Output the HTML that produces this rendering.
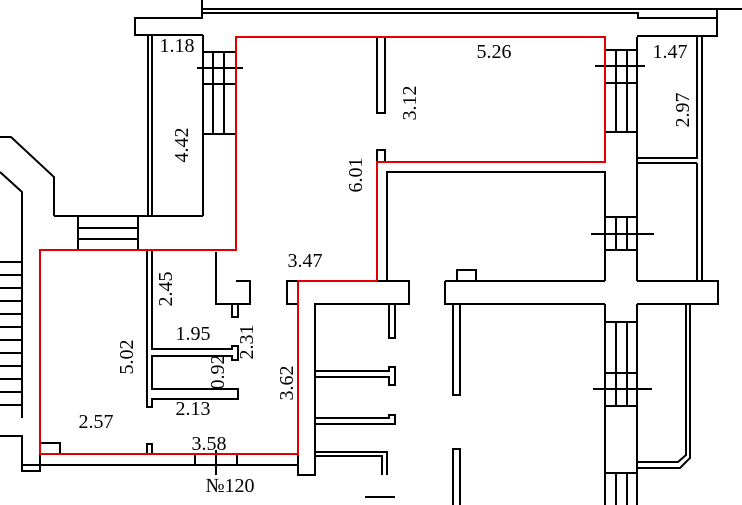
<!DOCTYPE html>
<html><head><meta charset="utf-8"><style>
html,body{margin:0;padding:0;background:#fff;}
svg{display:block;}
text{font-family:"Liberation Serif",serif;font-size:20px;fill:#000;text-anchor:middle;dominant-baseline:central;}
</style></head><body>
<svg width="742" height="505" viewBox="0 0 742 505" xmlns="http://www.w3.org/2000/svg">
<g fill="none" stroke="#000" stroke-width="2">
<path d="M202,0 V18 H135 V35 H203"/>
<path d="M203,9 H742 M203,13 H638 V18 H717 V9 M717,10 V36 H637"/>
<path d="M148,35 V216 M152,35 V216 M203,35 V216 M54,216 H203"/>
<path d="M203,52 H236 M203,134 H236 M213,52 V134 M224,52 V134 M197,68 H243 M203,84 H236"/>
<path d="M0,137 H11 L54,177 V216 M0,172 L22,192 V418"/>
<path d="M0,262 H22 M0,275 H22 M0,288 H22 M0,301 H22 M0,314 H22 M0,327 H22 M0,340 H22 M0,353 H22 M0,366 H22 M0,379 H22 M0,392 H22 M0,405 H22"/>
<path d="M0,436 H22 V471 H40 V454"/>
<path d="M78,216 V250 M138,216 V250 M78,228 H138 M78,239 H138"/>
<path d="M147,250 V407 H152 V399 H238 V389 H152 V356 H232 V360 H238 V346 H232 V349 H152 V250"/>
<path d="M216,252 V304 H250 V281 H236 M232,304 V317 H238 V304"/>
<path d="M22,465 H298 M40,443 H60 V454 M147,454 V444 H152 V454 M195,454 V465 M237,454 V465 M216,450 V475"/>
<path d="M298,281 H287 V304 H298 M298,304 V475 H315 V304 H409 V281 H377"/>
<path d="M389,304 V338 H395 V304"/>
<path d="M315,371 H389 V367 H395 V385 H389 V377 H315"/>
<path d="M315,418 H389 V415 H395 V424 H315"/>
<path d="M315,452 H387 V475 M315,456 H382 V475"/>
<path d="M365,497 H395"/>
<path d="M377,37 V113 H385 V37 M377,162 V150 H385 V162"/>
<path d="M387,281 V172 H605 V281"/>
<path d="M445,281 H605 M637,281 H718 V304 H637 M605,304 H445 V281"/>
<path d="M457,281 V270 H476 V281"/>
<path d="M453,304 V395 H460 V304 M453,505 V449 H460 V505"/>
<path d="M605,304 V505 M637,304 V505"/>
<path d="M605,322 H637 M605,406 H637 M616,322 V406 M627,322 V406 M605,373 H637 M593,389 H652 M605,473 H637 M616,473 V505 M627,473 V505"/>
<path d="M686,304 V455 L678,462 H637 M690,304 V458 L680,468 H637"/>
<path d="M637,37 V281 M697,37 V158 H637 M702,37 V281 M697,163 V281 M637,163 H697"/>
<path d="M605,50 H637 M605,132 H637 M616,50 V132 M627,50 V132 M605,83 H637 M595,66 H645"/>
<path d="M605,217 H637 M616,217 V250 M627,217 V250 M605,250 H637 M591,234 H654"/>
</g>
<path d="M236,37 H605 V162 H377 V281 H298 V454 H40 V250 H236 Z" fill="none" stroke="#e00000" stroke-width="2"/>
<text x="177" y="46">1.18</text>
<text x="494" y="52">5.26</text>
<text x="670" y="52">1.47</text>
<text x="305" y="261">3.47</text>
<text x="193" y="334">1.95</text>
<text x="193" y="409">2.13</text>
<text x="96" y="422">2.57</text>
<text x="209" y="444">3.58</text>
<text x="230" y="486">№120</text>
<text transform="translate(182,145) rotate(-90)">4.42</text>
<text transform="translate(356,175) rotate(-90)">6.01</text>
<text transform="translate(410,103) rotate(-90)">3.12</text>
<text transform="translate(683,110) rotate(-90)">2.97</text>
<text transform="translate(166,289) rotate(-90)">2.45</text>
<text transform="translate(247,342) rotate(-90)">2.31</text>
<text transform="translate(127,357) rotate(-90)">5.02</text>
<text transform="translate(218,372) rotate(-90)">0.92</text>
<text transform="translate(287,383) rotate(-90)">3.62</text>
</svg>
</body></html>
